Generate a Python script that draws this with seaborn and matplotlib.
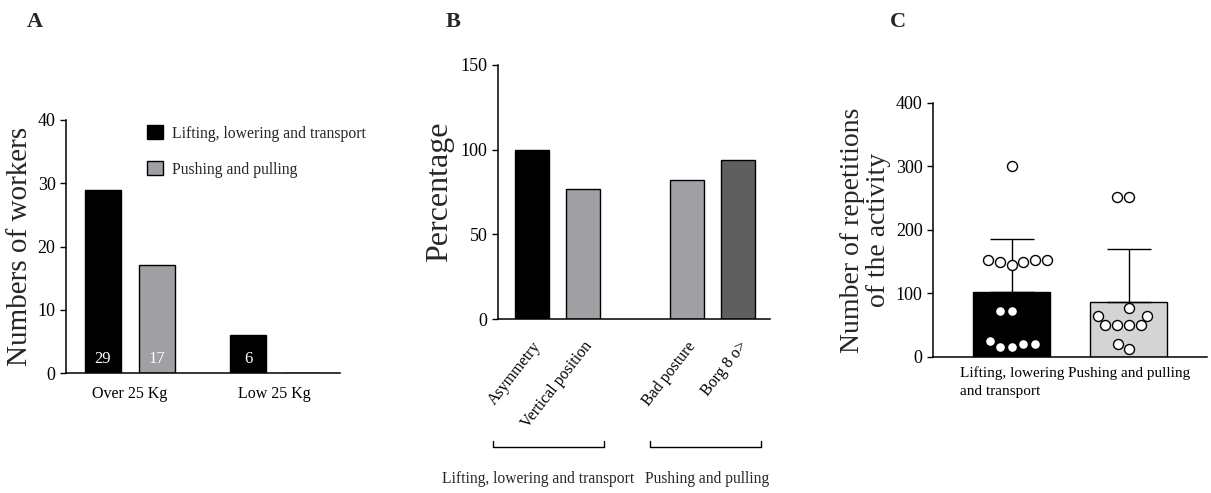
import numpy as np
import pandas as pd
import seaborn as sns
import matplotlib.pyplot as plt

# Panel A: number of workers by load
loads = ["Over 25 Kg", "Low 25 Kg"]
activities = ["Lifting, lowering and transport", "Pushing and pulling"]
workers_lifting = [29, 6]
workers_pushing = [17, 0]

# Panel B: percentage of risk factors
factors = ["Asymmetry", "Vertical position", " ", "Bad posture", "Borg 8 o>"]
factor_names = ["Asymmetry", "Vertical position", "Bad posture", "Borg 8 o>"]
factor_pct = [100, 77, 82, 94]
groups_b = ["Lifting, lowering and transport", "Pushing and pulling"]

# Panel C: repetitions of the activity (individual workers)
tasks = ["Lifting, lowering\nand transport", "Pushing and pulling"]
reps_lifting = [300, 152, 150, 150, 152, 145, 152, 72, 72, 25, 20, 20, 16, 15]
reps_pushing = [252, 252, 77, 50, 50, 50, 50, 65, 65, 20, 13]

BLACK = "#000000"
GRAY = "#A0A0A4"
DARK = "#5F5F5F"
LIGHT = "#D4D4D4"


def set_config():
    sns.set_style("ticks")
    plt.rcParams["font.family"] = ["Liberation Serif", "DejaVu Serif"]
    plt.rcParams["axes.linewidth"] = 1.1
    plt.rcParams["xtick.major.size"] = 0
    plt.rcParams["ytick.major.size"] = 4
    plt.rcParams["ytick.major.width"] = 1.0
    plt.rcParams["ytick.labelsize"] = 13
    plt.rcParams["xtick.labelsize"] = 11.5
    plt.rcParams["axes.edgecolor"] = "black"
    plt.rcParams["xtick.color"] = "black"
    plt.rcParams["ytick.color"] = "black"


def panel_a(ax):
    df = pd.DataFrame({
        "load": loads * 2,
        "activity": [activities[0]] * 2 + [activities[1]] * 2,
        "workers": workers_lifting + workers_pushing,
    })
    sns.barplot(data=df, x="load", y="workers", hue="activity", order=loads,
                hue_order=activities, palette=[BLACK, GRAY], width=0.74,
                gap=0.33, edgecolor="black", linewidth=1, ax=ax)
    for cont in ax.containers:
        for p in cont:
            h = p.get_height()
            if h > 0:
                ax.annotate(f"{h:.0f}", (p.get_x() + p.get_width() / 2, 0),
                            xytext=(0, 4), textcoords="offset points",
                            ha="center", va="bottom", color="white", fontsize=12)
    ax.set_ylim(0, 40)
    ax.set_yticks([0, 10, 20, 30, 40])
    ax.set_xlim(-0.44, 1.45)
    ax.set_xlabel("")
    ax.set_ylabel("Numbers of workers", fontsize=21, labelpad=3)
    ax.tick_params(axis="x", pad=9)
    ax.legend(loc="upper left", bbox_to_anchor=(0.245, 1.035), frameon=False,
              fontsize=11.3, handlelength=1.0, handleheight=1.0,
              labelspacing=1.25, handletextpad=0.55)
    sns.despine(ax=ax)


def panel_b(ax):
    df = pd.DataFrame({"factor": factor_names, "pct": factor_pct})
    sns.barplot(data=df, x="factor", y="pct", hue="factor", order=factors,
                palette=[BLACK, GRAY, GRAY, DARK], width=0.66,
                edgecolor="black", linewidth=1, legend=False, ax=ax)
    ax.set_ylim(0, 150)
    ax.set_yticks([0, 50, 100, 150])
    ax.set_xlim(-0.66, 4.62)
    ax.set_xlabel("")
    ax.set_ylabel("Percentage", fontsize=23, labelpad=5)
    ax.set_xticks(range(len(factors)))
    ax.set_xticklabels(factors, rotation=52, ha="right", va="top",
                       rotation_mode="anchor", fontsize=11.5)
    ax.tick_params(axis="x", pad=14)
    # group brackets under the rotated labels
    spans = [(-0.76, 1.40), (2.29, 4.45)]
    shifts = [-0.2, 0.03]
    trans = ax.get_xaxis_transform()
    for (x0, x1), dx, name in zip(spans, shifts, groups_b):
        ax.plot([x0, x0, x1, x1], [-0.48, -0.505, -0.505, -0.48], color="black",
                lw=1, transform=trans, clip_on=False)
        ax.text((x0 + x1) / 2 + dx, -0.63, name, transform=trans, ha="center",
                va="center", fontsize=11.2)
    sns.despine(ax=ax)


def panel_c(ax):
    df = pd.DataFrame({
        "task": [tasks[0]] * len(reps_lifting) + [tasks[1]] * len(reps_pushing),
        "reps": reps_lifting + reps_pushing,
    })
    sns.barplot(data=df, x="task", y="reps", hue="task", order=tasks,
                palette=[BLACK, LIGHT], width=0.66, errorbar=None,
                edgecolor=["black", "#7F7F7F"], linewidth=1, legend=False, ax=ax)
    stats = df.groupby("task", sort=False)["reps"].agg(["mean", "std"]).loc[tasks]
    ax.errorbar(range(len(tasks)), stats["mean"],
                yerr=[np.zeros(len(tasks)), stats["std"]], fmt="none",
                ecolor="black", elinewidth=1, capsize=16, capthick=1, zorder=3)
    sns.swarmplot(data=df, x="task", y="reps", order=tasks, color="white",
                  edgecolor="black", linewidth=1, size=7.2, ax=ax, zorder=4)
    ax.set_ylim(0, 400)
    ax.set_yticks([0, 100, 200, 300, 400])
    ax.set_xlim(-0.675, 1.67)
    ax.set_xlabel("")
    ax.set_ylabel("Number of repetitions\nof the activity", fontsize=20,
                  labelpad=3, linespacing=1.1)
    ax.set_xticks(range(len(tasks)))
    ax.set_xticklabels(tasks, fontsize=11, multialignment="left")
    ax.tick_params(axis="x", pad=7)
    sns.despine(ax=ax)


def main():
    set_config()
    fig = plt.figure(figsize=(12.11, 4.93), dpi=100)
    ax_a = fig.add_axes([0.0545, 0.2434, 0.2263, 0.5132])
    ax_b = fig.add_axes([0.4112, 0.3529, 0.2246, 0.5153])
    ax_c = fig.add_axes([0.7704, 0.2759, 0.2263, 0.5152])
    panel_a(ax_a)
    panel_b(ax_b)
    panel_c(ax_c)
    for x, letter in [(35, "A"), (453, "B"), (898, "C")]:
        fig.text(x / 1211, 1 - 22 / 493, letter, ha="center", va="center",
                 fontsize=16, fontweight="bold")
    fig.canvas.draw()
    for tick in ax_c.xaxis.get_major_ticks():
        tick.label1.set_linespacing(1.45)
    fig.savefig("out.png", dpi=100)


if __name__ == "__main__":
    main()
